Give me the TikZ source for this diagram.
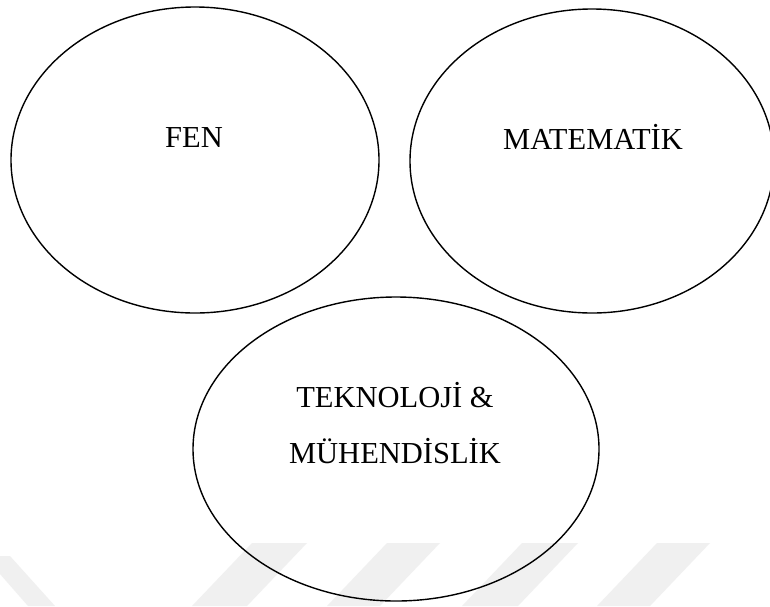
\documentclass[tikz,border=0pt]{standalone}
\usepackage{fontspec}
\setmainfont{Liberation Serif}
\usetikzlibrary{shapes.geometric}
\begin{document}
\begin{tikzpicture}[x=1pt,y=-1pt,
  oval/.style={draw=black,line width=1.4pt,ellipse,inner sep=0pt},
  label/.style={font=\fontsize{30.5}{56}\selectfont,inner sep=0pt,align=center},
  wm/.style={fill=black!6,draw=none}]
\useasboundingbox (0,0) rectangle (770,606);
\clip (0,0) rectangle (770,606);
\fill[white] (0,0) rectangle (770,606);
% watermark stripes
\fill[wm] (0,556) -- (10,556) -- (55,606) -- (28,606) -- (0,574) -- cycle;
\fill[wm] (252,543) -- (307,543) -- (247,606) -- (192,606) -- cycle;
\fill[wm] (387,543) -- (440,543) -- (380,606) -- (327,606) -- cycle;
\fill[wm] (522,543) -- (578,543) -- (518,606) -- (462,606) -- cycle;
\fill[wm] (657,543) -- (710,543) -- (650,606) -- (597,606) -- cycle;
% ellipses
\node[oval,minimum width=368pt,minimum height=306pt] (fen) at (195,160) {};
\node[oval,minimum width=364pt,minimum height=304pt] (mat) at (592,161) {};
\node[oval,minimum width=406pt,minimum height=304pt] (tek) at (396,449) {};
% labels
\node[label,anchor=base] (fent) at (194,147) {FEN};
\node[label,anchor=base] (matt) at (593,149) {MATEMATİK};
\node[label,anchor=base] (tekt1) at (395,407) {TEKNOLOJİ \&};
\node[label,anchor=base] (tekt2) at (395,463) {MÜHENDİSLİK};
\end{tikzpicture}
\end{document}
